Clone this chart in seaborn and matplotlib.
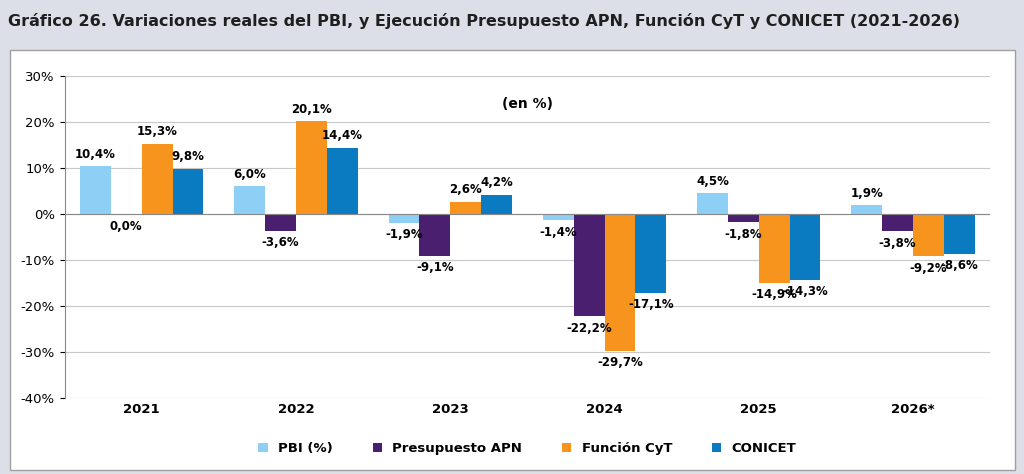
import matplotlib.pyplot as plt
import seaborn as sns
import pandas as pd
from matplotlib.patches import Rectangle

years = ['2021', '2022', '2023', '2024', '2025', '2026*']
series = ['PBI (%)', 'Presupuesto APN', 'Función CyT', 'CONICET']
pbi = [10.4, 6.0, -1.9, -1.4, 4.5, 1.9]
apn = [0.0, -3.6, -9.1, -22.2, -1.8, -3.8]
cyt = [15.3, 20.1, 2.6, -29.7, -14.9, -9.2]
conicet = [9.8, 14.4, 4.2, -17.1, -14.3, -8.6]
colors = ['#8DCFF5', '#4B1F6F', '#F7941D', '#0A7BC1']

df = pd.DataFrame({
    'year': years * 4,
    'serie': [s for s in series for _ in years],
    'valor': pbi + apn + cyt + conicet,
})

fig = plt.figure(figsize=(10.24, 4.74), dpi=100, facecolor='#DCDFE8')
fig.patches.append(Rectangle((10 / 1024, 4 / 474), 1005 / 1024, 420 / 474,
                             transform=fig.transFigure, facecolor='white',
                             edgecolor='#A0A0A0', zorder=-5))
fig.text(0.008, 0.955, 'Gráfico 26. Variaciones reales del PBI, y Ejecución Presupuesto APN, Función CyT y CONICET (2021-2026)',
         fontsize=11.5, fontweight='bold', color='#1F1F1F', va='center')

ax = fig.add_axes([0.063, 0.16, 0.904, 0.68])
ax.set_zorder(2)
ax.patch.set_alpha(0)
sns.barplot(data=df, x='year', y='valor', hue='serie', palette=colors,
            saturation=1, ax=ax, width=0.8)
ax.set_ylim(-40, 30)
ax.set_yticks(range(-40, 31, 10))
ax.set_yticklabels([f'{v}%' for v in range(-40, 31, 10)], fontsize=9.5)
ax.set_xticklabels(years, fontsize=9.5, fontweight='bold')
ax.set_xlabel('')
ax.set_ylabel('')
ax.yaxis.grid(True, color='#C8C8C8', linewidth=0.8)
ax.set_axisbelow(True)
for s in ['top', 'right']:
    ax.spines[s].set_visible(False)
ax.spines['left'].set_color('#888888')
ax.spines['bottom'].set_visible(False)
ax.axhline(0, color='#888888', linewidth=0.8)
ax.tick_params(axis='x', length=0)

for cont in ax.containers:
    for bar in cont:
        v = bar.get_height()
        x = bar.get_x() + bar.get_width() / 2
        txt = f'{v:.1f}%'.replace('.', ',')
        if v > 0:
            ax.text(x, v + 1.2, txt, ha='center', va='bottom', fontsize=8.5, fontweight='bold')
        else:
            ax.text(x, v - 1.2, txt, ha='center', va='top', fontsize=8.5, fontweight='bold')

ax.text(0.5, 0.9, '(en %)', transform=ax.transAxes, ha='center', fontsize=10, fontweight='bold')
ax.legend(loc='upper center', bbox_to_anchor=(0.5, -0.1), ncol=4, frameon=False,
          prop={'weight': 'bold', 'size': 9.5}, handlelength=0.7, columnspacing=3)

fig.savefig('out.png', dpi=100, facecolor=fig.get_facecolor())
